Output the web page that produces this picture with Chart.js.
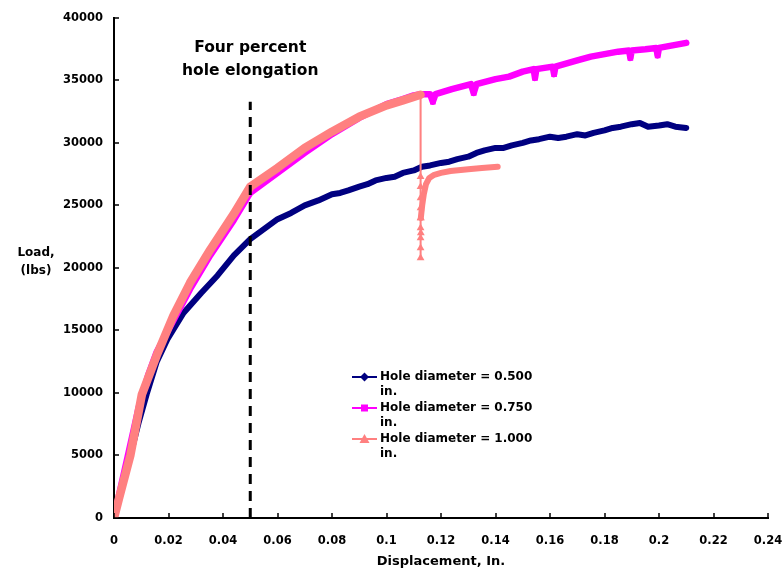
<!DOCTYPE html>
<html>
<head>
<meta charset="utf-8">
<title>Load vs displacement</title>
<script src="https://cdn.jsdelivr.net/npm/chart.js@4.4.1/dist/chart.umd.min.js"></script>
<style>
  html, body { margin: 0; padding: 0; background: #fff; }
  #wrap { width: 784px; height: 575px; }
</style>
</head>
<body>
<div id="wrap"><canvas id="loadChart" width="784" height="575"></canvas></div>
<script>
// --- data ---
const xTickValues = [0, 0.02, 0.04, 0.06, 0.08, 0.1, 0.12, 0.14, 0.16, 0.18, 0.2, 0.22, 0.24];
const yTickValues = [0, 5000, 10000, 15000, 20000, 25000, 30000, 35000, 40000];

const seriesNames = ['Hole diameter = 0.500 in.', 'Hole diameter = 0.750 in.', 'Hole diameter = 1.000 in.'];

// 0.500 in. hole
const smallX = [0, 0.003, 0.006, 0.009, 0.012, 0.0157, 0.0196, 0.0255, 0.032, 0.038, 0.044, 0.05, 0.055, 0.06, 0.065,
  0.07, 0.075, 0.08, 0.083, 0.086, 0.09, 0.093, 0.096, 0.1, 0.103, 0.106, 0.11, 0.113, 0.116, 0.12, 0.123, 0.126,
  0.13, 0.133, 0.136, 0.14, 0.143, 0.146, 0.15, 0.153, 0.156, 0.16, 0.163, 0.166, 0.17, 0.173, 0.176, 0.18, 0.183,
  0.186, 0.19, 0.193, 0.196, 0.2, 0.203, 0.206, 0.21];
const smallY = [0, 2600, 5000, 7600, 9900, 12500, 14300, 16400, 18000, 19400, 21000, 22300, 23100, 23900, 24400,
  25000, 25400, 25900, 26000, 26200, 26500, 26700, 27000, 27200, 27300, 27600, 27800, 28100, 28200, 28400, 28500, 28700,
  28900, 29200, 29400, 29600, 29600, 29800, 30000, 30200, 30300, 30500, 30400, 30500, 30700, 30600, 30800, 31000, 31200,
  31300, 31500, 31600, 31300, 31400, 31500, 31300, 31200];

// 0.750 in. hole
const midX = [0, 0.002, 0.005, 0.009, 0.0125, 0.0157, 0.0218, 0.0279, 0.0353, 0.0439, 0.05, 0.06, 0.07, 0.08, 0.09,
  0.1, 0.106, 0.11, 0.1125, 0.116, 0.117, 0.118, 0.124, 0.131, 0.132, 0.133, 0.14, 0.145, 0.15, 0.154, 0.1545, 0.155,
  0.161, 0.1615, 0.162, 0.17, 0.175, 0.18, 0.185, 0.189, 0.1895, 0.19, 0.195, 0.199, 0.1995, 0.2, 0.205, 0.21];
const midY = [0, 2000, 4900, 8800, 11400, 13300, 15800, 18300, 21000, 23800, 26000, 27600, 29200, 30700, 32000,
  33100, 33500, 33800, 33900, 33900, 33300, 33900, 34300, 34700, 34000, 34700, 35100, 35300, 35700, 35900, 35200, 35900,
  36100, 35500, 36100, 36600, 36900, 37100, 37300, 37400, 36800, 37400, 37500, 37600, 37000, 37600, 37800, 38000];

// 1.000 in. hole
const largeX = [0, 0.002, 0.006, 0.0102, 0.0157, 0.0218, 0.0279, 0.0353, 0.0439, 0.05, 0.06, 0.07, 0.08, 0.09, 0.1,
  0.106, 0.1125, 0.1125, 0.1125, 0.1125, 0.1125, 0.1125, 0.1125, 0.1125, 0.1125, 0.1125, 0.1126, 0.1126, 0.1131,
  0.1137, 0.1145, 0.1157, 0.1175, 0.12, 0.1235, 0.13, 0.135, 0.1408];
const largeY = [0, 1700, 5000, 9850, 13020, 16180, 18810, 21450, 24300, 26500, 28000, 29600, 30900, 32100, 33000,
  33400, 33850, 27300, 26500, 25600, 24800, 24000, 23200, 22400, 21600, 20800, 22800, 24000, 25000,
  25900, 26700, 27200, 27450, 27600, 27750, 27900, 28000, 28100];

// four percent hole elongation marker
const elongationX = 0.05;
const elongationTop = 33300;
const noteLines = ['Four percent', 'hole elongation'];

const colors = ['#000080', '#FF00FF', '#FF8080'];
const FONT = '"DejaVu Sans", "Liberation Sans", Arial, sans-serif';

function toPoints(xs, ys) {
  return xs.map((x, i) => ({ x: x, y: ys[i] }));
}

// marker only where the pink curve dips
function dipRadius(ctx) {
  const d = ctx.dataset.data, i = ctx.dataIndex;
  if (i <= 0 || i >= d.length - 1) return 0;
  return (d[i - 1].y - d[i].y > 300 && d[i + 1].y - d[i].y > 300) ? 4 : 0;
}

const overlay = {
  id: 'overlay',
  afterDraw(chart) {
    const ctx = chart.ctx;
    const { left, bottom } = chart.chartArea;
    const xs = chart.scales.x, ys = chart.scales.y;
    ctx.save();

    // tick marks pointing into the plot
    ctx.strokeStyle = '#000';
    ctx.lineWidth = 1.5;
    xs.ticks.forEach(t => {
      const px = Math.round(xs.getPixelForValue(t.value));
      ctx.beginPath(); ctx.moveTo(px, bottom); ctx.lineTo(px, bottom - 5); ctx.stroke();
    });
    ys.ticks.forEach(t => {
      const py = Math.round(ys.getPixelForValue(t.value));
      ctx.beginPath(); ctx.moveTo(left, py); ctx.lineTo(left + 5, py); ctx.stroke();
    });

    ctx.fillStyle = '#000';
    ctx.textAlign = 'center';
    ctx.textBaseline = 'middle';

    // y axis title, horizontal
    ctx.font = 'bold 12px ' + FONT;
    ctx.fillText('Load,', 36, 253);
    ctx.fillText('(lbs)', 36, 271);

    // note above the dashed line
    ctx.font = 'bold 15.5px ' + FONT;
    const nx = xs.getPixelForValue(elongationX);
    ctx.fillText(noteLines[0], nx, 48);
    ctx.fillText(noteLines[1], nx, 71);

    // legend inside the plot
    ctx.font = 'bold 12px ' + FONT;
    ctx.textAlign = 'left';
    seriesNames.forEach((name, i) => {
      const y = 377 + i * 31;
      const cut = name.lastIndexOf(' ');
      ctx.strokeStyle = colors[i];
      ctx.fillStyle = colors[i];
      ctx.lineWidth = 2;
      ctx.beginPath(); ctx.moveTo(352, y); ctx.lineTo(377, y); ctx.stroke();
      const mx = 364.5;
      ctx.beginPath();
      if (i === 0) {
        ctx.moveTo(mx, y - 4.5); ctx.lineTo(mx + 4.5, y); ctx.lineTo(mx, y + 4.5); ctx.lineTo(mx - 4.5, y);
      } else if (i === 1) {
        ctx.rect(mx - 3.5, y - 3.5, 7, 7);
      } else {
        ctx.moveTo(mx, y - 5); ctx.lineTo(mx + 5, y + 4); ctx.lineTo(mx - 5, y + 4);
      }
      ctx.closePath(); ctx.fill();
      ctx.fillStyle = '#000';
      ctx.fillText(name.slice(0, cut), 380, y);
      ctx.fillText(name.slice(cut + 1), 380, y + 15);
    });

    ctx.restore();
  }
};

new Chart(document.getElementById('loadChart').getContext('2d'), {
  type: 'line',
  data: {
    datasets: [
      {
        label: 'elongation',
        data: [{ x: elongationX, y: 0 }, { x: elongationX, y: elongationTop }],
        borderColor: '#000', borderWidth: 3, borderDash: [10, 7],
        pointRadius: 0, order: 0
      },
      {
        label: seriesNames[2],
        data: toPoints(largeX, largeY),
        borderColor: colors[2], backgroundColor: colors[2],
        borderWidth: 8, borderCapStyle: 'round', borderJoinStyle: 'round',
        segment: {
          borderWidth: c => Math.abs(c.p1.parsed.x - c.p0.parsed.x) < 0.00015 ? 2 : (c.p0.parsed.x > 0.112 ? 6 : 8.5)
        },
        pointStyle: 'triangle',
        pointRadius: c => (c.raw && c.raw.x > 0.1124 && c.raw.x < 0.1127 && c.raw.y < 27400) ? 4.5 : 0,
        pointBorderWidth: 0,
        order: 1
      },
      {
        label: seriesNames[1],
        data: toPoints(midX, midY),
        borderColor: colors[1], backgroundColor: colors[1],
        borderWidth: 6.5, borderCapStyle: 'round', borderJoinStyle: 'round',
        pointStyle: 'rect', pointRadius: dipRadius, pointBorderWidth: 0,
        order: 2
      },
      {
        label: seriesNames[0],
        data: toPoints(smallX, smallY),
        borderColor: colors[0], backgroundColor: colors[0],
        borderWidth: 6, borderCapStyle: 'round', borderJoinStyle: 'round',
        pointRadius: 0,
        order: 3
      }
    ]
  },
  options: {
    responsive: false,
    animation: false,
    events: [],
    layout: { padding: { top: 12, right: 16, left: 0, bottom: 0 } },
    plugins: { legend: { display: false }, tooltip: { enabled: false } },
    scales: {
      x: {
        type: 'linear', min: 0, max: 0.24,
        afterBuildTicks: s => { s.ticks = xTickValues.map(v => ({ value: v })); },
        afterFit: s => { s.height = 57; s.paddingLeft = 0; s.paddingRight = 0; },
        grid: { display: false, drawTicks: false },
        border: { color: '#000', width: 2 },
        ticks: {
          padding: 16, color: '#000', maxRotation: 0, autoSkip: false,
          font: { family: FONT, size: 11.5, weight: 'bold' },
          callback: v => String(Number(v.toFixed(2)))
        },
        title: {
          display: true, text: 'Displacement, In.', color: '#000',
          font: { family: FONT, size: 13, weight: 'bold' },
          padding: { top: 0, bottom: 6 }
        }
      },
      y: {
        type: 'linear', min: 0, max: 40000,
        afterBuildTicks: s => { s.ticks = yTickValues.map(v => ({ value: v })); },
        afterFit: s => { s.width = 114; },
        grid: { display: false, drawTicks: false },
        border: { color: '#000', width: 2 },
        ticks: {
          padding: 11, color: '#000', autoSkip: false,
          font: { family: FONT, size: 11.5, weight: 'bold' },
          callback: v => String(v)
        }
      }
    }
  },
  plugins: [overlay]
});
</script>
</body>
</html>
